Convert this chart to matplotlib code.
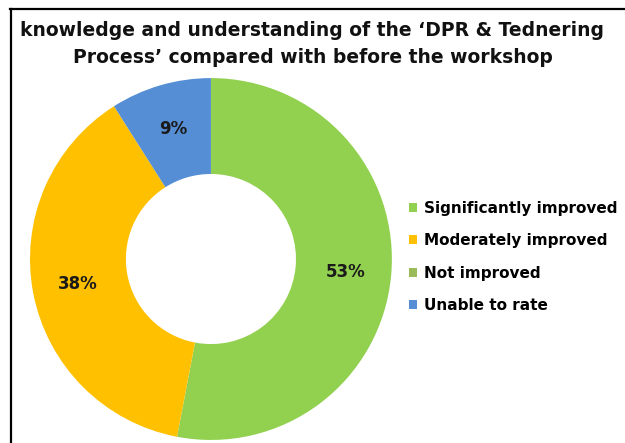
import matplotlib
matplotlib.use("Agg")
import matplotlib.pyplot as plt
from matplotlib.patches import Patch
from matplotlib.lines import Line2D
import numpy as np

# data
categories = ["Significantly improved", "Moderately improved", "Not improved", "Unable to rate"]
values = [53, 38, 0, 9]
colors = ["#92D050", "#FFC000", "#9BBB59", "#558ED5"]
title = "knowledge and understanding of the \u2018DPR & Tednering\nProcess\u2019 compared with before the workshop"

plt.rcParams["font.family"] = ["DejaVu Sans"]

fig = plt.figure(figsize=(6.25, 4.43), dpi=100)

# donut
ax = fig.add_axes([0.048, 0.0068, 0.579, 0.817])
wedges, _ = ax.pie(values, colors=colors, startangle=90, counterclock=False,
                   radius=1.0, wedgeprops=dict(width=0.53, linewidth=0))
ax.set_xlim(-1, 1)
ax.set_ylim(-1, 1)
ax.set_aspect("equal")

# percentage labels at the middle of each ring segment
total = sum(values)
start = 90.0
for v in values:
    span = v / total * 360
    mid = np.deg2rad(start - span / 2)
    start -= span
    if v == 0:
        continue
    ax.text(0.75 * np.cos(mid), 0.75 * np.sin(mid), f"{v}%", ha="center", va="center",
            fontsize=12, fontweight="bold", color="#1a1a1a")

# title
fig.text(0.5, 0.9, title, ha="center", va="center", fontsize=13.5,
         fontweight="bold", linespacing=1.55, color="#111111")

# legend
handles = [Patch(facecolor=c, edgecolor="none") for c in colors]
fig.legend(handles, categories, loc="center left", bbox_to_anchor=(0.632, 0.42),
           frameon=False, prop=dict(weight="bold", size=11),
           handlelength=0.55, handleheight=0.55, handletextpad=0.45,
           labelspacing=1.15)

# frame lines (top and left only)
fig.add_artist(Line2D([0.016, 1.0], [1 - 8.5 / 443, 1 - 8.5 / 443], color="black", lw=1.6))
fig.add_artist(Line2D([0.0168, 0.0168], [0.0, 1 - 8.5 / 443], color="black", lw=1.6))

fig.savefig("out.png", dpi=100)
